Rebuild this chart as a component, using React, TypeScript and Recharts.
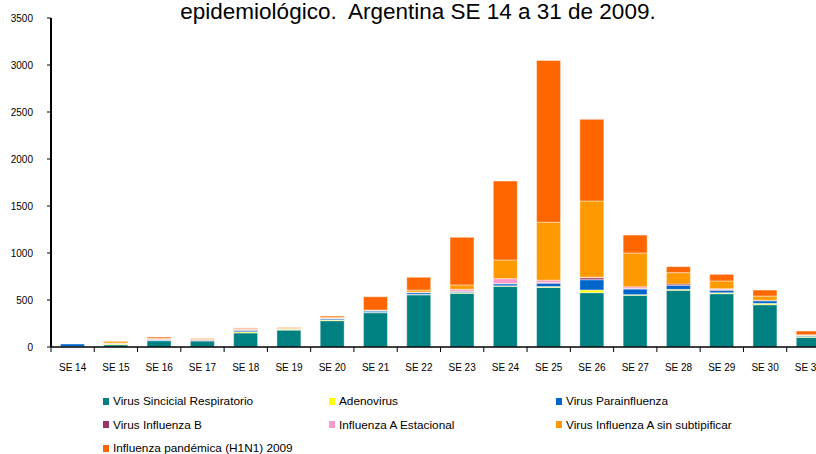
import { BarChart, Bar, XAxis, YAxis, Legend } from "recharts";

const CATEGORIES = [
  "SE 14", "SE 15", "SE 16", "SE 17", "SE 18", "SE 19", "SE 20", "SE 21", "SE 22",
  "SE 23", "SE 24", "SE 25", "SE 26", "SE 27", "SE 28", "SE 29", "SE 30", "SE 31",
];

const VSR = [4, 24, 67, 65, 150, 180, 280, 365, 555, 571, 646, 633, 578, 550, 603, 567, 450, 103];
const ADENO = [0, 10, 3, 3, 12, 10, 8, 3, 5, 8, 5, 10, 28, 7, 10, 10, 14, 8];
const PARAINFLUENZA = [28, 2, 8, 4, 15, 3, 12, 15, 18, 10, 21, 35, 110, 60, 43, 25, 28, 10];
const INFLUENZA_B = [0, 2, 5, 6, 5, 2, 3, 2, 3, 5, 5, 8, 21, 5, 14, 10, 5, 2];
const INFLUENZA_A_EST = [0, 4, 3, 3, 8, 2, 5, 3, 3, 20, 50, 25, 5, 18, 0, 8, 0, 2];
const INFLUENZA_A_SIN = [0, 20, 5, 10, 5, 12, 10, 5, 22, 46, 199, 617, 811, 360, 121, 82, 45, 5];
const H1N1 = [0, 2, 15, 5, 8, 3, 12, 142, 136, 507, 840, 1720, 869, 191, 64, 71, 64, 40];

const Y_TICKS = [0, 500, 1000, 1500, 2000, 2500, 3000, 3500];

const SERIES = [
  { key: "vsr", name: "Virus Sincicial Respiratorio", color: "#008080", values: VSR },
  { key: "adeno", name: "Adenovirus", color: "#FFFF00", values: ADENO },
  { key: "para", name: "Virus Parainfluenza", color: "#0066CC", values: PARAINFLUENZA },
  { key: "fluB", name: "Virus Influenza B", color: "#993366", values: INFLUENZA_B },
  { key: "fluAEst", name: "Influenza A Estacional", color: "#FF99CC", values: INFLUENZA_A_EST },
  { key: "fluASin", name: "Virus Influenza A sin subtipificar", color: "#FF9900", values: INFLUENZA_A_SIN },
  { key: "h1n1", name: "Influenza pandémica (H1N1) 2009", color: "#FF6600", values: H1N1 },
];

const data = CATEGORIES.map((se, i) => {
  const row: any = { se };
  SERIES.forEach((s) => (row[s.key] = s.values[i]));
  return row;
});

const FONT = "'Liberation Sans', Arial, sans-serif";

// tick lines sit on category boundaries, like the Excel original
function SeTick(props: any) {
  const { x, y, payload } = props;
  const half = payload.offset || 0;
  return (
    <g>
      <line x1={x - half} x2={x - half} y1={y} y2={y + 5} stroke="#000" strokeWidth={1} />
      <text x={x} y={y + 24} textAnchor="middle" fontSize={10} fill="#000" fontFamily={FONT}>
        {payload.value}
      </text>
    </g>
  );
}

function LegendGrid() {
  const cols = [103, 329, 556];
  return (
    <div style={{ position: "relative", width: 816, height: 64, fontFamily: FONT, fontSize: 11.8, color: "#000" }}>
      {SERIES.map((s, i) => (
        <div
          key={s.key}
          style={{
            position: "absolute",
            left: cols[i % 3],
            top: Math.floor(i / 3) * 23.5,
            display: "flex",
            alignItems: "center",
            whiteSpace: "nowrap",
          }}
        >
          <span style={{ display: "inline-block", width: 6, height: 7, background: s.color, marginRight: 4 }} />
          {s.name}
        </div>
      ))}
    </div>
  );
}

export default function App() {
  return (
    <div style={{ position: "fixed", left: 0, top: 0, width: 816, height: 454, overflow: "hidden", background: "#fff" }}>
      <div
        style={{
          position: "absolute",
          top: -2,
          left: 0,
          width: 836,
          textAlign: "center",
          fontFamily: FONT,
          fontSize: 22.5,
          lineHeight: "28px",
          color: "#000",
          whiteSpace: "pre",
        }}
      >
        {"epidemiológico.  Argentina SE 14 a 31 de 2009."}
      </div>
      <BarChart
        width={830}
        height={454}
        data={data}
        margin={{ top: 18, right: 0, left: 0, bottom: 0 }}
        barCategoryGap="22%"
      >
        <XAxis
          dataKey="se"
          height={43}
          interval={0}
          tickSize={0}
          tickMargin={0}
          tickLine={false}
          tick={<SeTick />}
          axisLine={{ stroke: "#000", strokeWidth: 1.5 }}
        />
        <YAxis
          width={51}
          domain={[0, 3500]}
          ticks={Y_TICKS}
          interval={0}
          tickSize={4}
          tickMargin={14}
          tick={{ fontSize: 10, fill: "#000", fontFamily: FONT }}
          tickLine={{ stroke: "#000" }}
          axisLine={{ stroke: "#000", strokeWidth: 2 }}
        />
        {SERIES.map((s) => (
          <Bar
            key={s.key}
            dataKey={s.key}
            name={s.name}
            stackId="a"
            fill={s.color}
            stroke="rgba(255,255,255,0.45)"
            strokeWidth={1}
            isAnimationActive={false}
          />
        ))}
        <Legend content={<LegendGrid />} wrapperStyle={{ position: "absolute", top: 394, left: 0, width: 816 }} />
      </BarChart>
    </div>
  );
}
